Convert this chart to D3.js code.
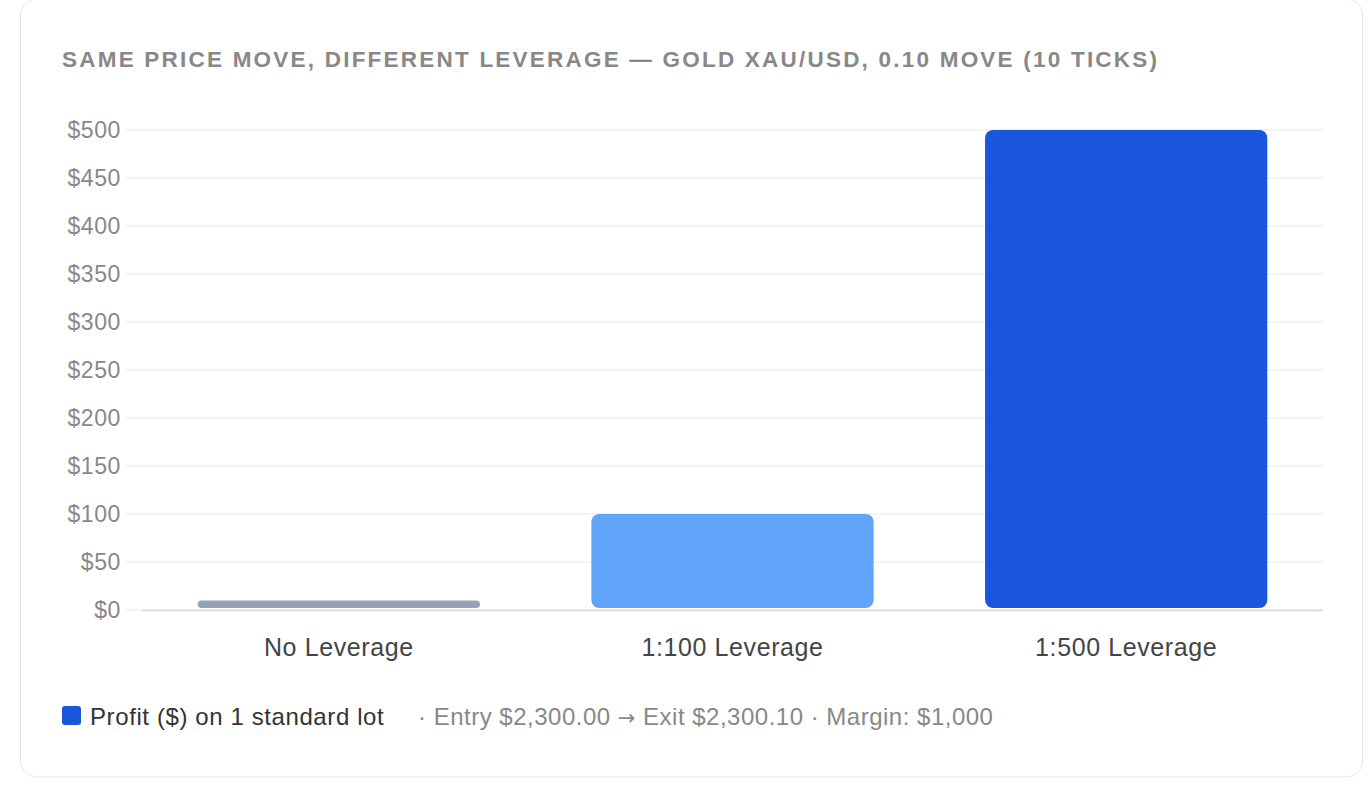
<!DOCTYPE html>
<html>
<head>
<meta charset="utf-8">
<script src="https://cdn.jsdelivr.net/npm/d3@7"></script>
<style>
  html, body { margin: 0; padding: 0; background: #fff; }
  svg { display: block; font-family: "Liberation Sans", Arial, sans-serif; }
</style>
</head>
<body>
<div id="chart-area"></div>
<script>
// data
const categories = ['No Leverage', '1:100 Leverage', '1:500 Leverage'];
const profits = [10, 100, 500];
const barColors = ['#94a3b8', '#60a5fa', '#1a56db'];
const yTicks = [0, 50, 100, 150, 200, 250, 300, 350, 400, 450, 500];
const titleText = 'SAME PRICE MOVE, DIFFERENT LEVERAGE \u2014 GOLD XAU/USD, 0.10 MOVE (10 TICKS)';
const legendLabel = 'Profit ($) on 1 standard lot';
const legendNote = '\u00b7 Entry $2,300.00 \u2192 Exit $2,300.10 \u00b7 Margin: $1,000';

const W = 1368, H = 796;
const margin = {top: 130, right: 45, bottom: 186, left: 142};
const width = W - margin.left - margin.right;
const height = H - margin.top - margin.bottom;

const svg = d3.select('#chart-area')
  .append('svg')
  .attr('width', W)
  .attr('height', H);

// card
svg.append('rect')
  .attr('x', 20.5).attr('y', -1)
  .attr('width', 1342).attr('height', 778)
  .attr('rx', 16)
  .attr('fill', '#fff')
  .attr('stroke', '#e5e7eb');

// title
svg.append('text')
  .attr('x', 62).attr('y', 67)
  .attr('font-size', 22.5)
  .attr('font-weight', 'bold')
  .attr('fill', '#888')
  .attr('textLength', 1095)
  .attr('lengthAdjust', 'spacing')
  .text(titleText);

const g = svg.append('g')
  .attr('transform', `translate(${margin.left}, ${margin.top})`);

// scales
const y_s = d3.scaleLinear().domain([0, 500]).range([height, 0]);
const x_s = d3.scaleBand()
  .domain(categories)
  .range([0, width])
  .paddingInner(0.283)
  .paddingOuter(0.1415);

// grid
g.append('g')
  .selectAll('line')
  .data(yTicks)
  .enter()
  .append('line')
  .attr('x1', -16).attr('x2', width)
  .attr('y1', d => y_s(d)).attr('y2', d => y_s(d))
  .attr('stroke', '#eef1f5')
  .attr('stroke-width', 1.5);

// y axis labels
const yAxis = d3.axisLeft(y_s)
  .tickValues(yTicks)
  .tickSize(0)
  .tickPadding(21)
  .tickFormat(d => '$' + d);
g.append('g')
  .attr('class', 'y axis')
  .call(yAxis)
  .call(s => s.select('.domain').remove())
  .selectAll('text')
  .attr('font-size', 23)
  .attr('letter-spacing', '0.6px')
  .attr('font-family', '"Liberation Sans", Arial, sans-serif')
  .attr('fill', '#888');

// baseline
g.append('line')
  .attr('x1', 0).attr('x2', width)
  .attr('y1', y_s(0) + 0.5).attr('y2', y_s(0) + 0.5)
  .attr('stroke', '#d4d7dc')
  .attr('stroke-width', 1.5);

// x axis labels
const xAxis = d3.axisBottom(x_s).tickSize(0);
g.append('g')
  .attr('class', 'x axis')
  .attr('transform', `translate(0, ${height})`)
  .call(xAxis)
  .call(s => s.select('.domain').remove())
  .selectAll('text')
  .attr('y', 46)
  .attr('dy', null)
  .attr('font-size', 25)
  .attr('letter-spacing', '0.6px')
  .attr('font-family', '"Liberation Sans", Arial, sans-serif')
  .attr('fill', '#444');

// bars
g.selectAll('.bar')
  .data(profits)
  .enter()
  .append('rect')
  .attr('class', 'bar')
  .attr('x', (d, i) => x_s(categories[i]))
  .attr('y', d => y_s(d))
  .attr('width', x_s.bandwidth())
  .attr('height', d => y_s(0) - y_s(d) - 2)
  .attr('rx', d => Math.min(8, (y_s(0) - y_s(d) - 2) / 2))
  .attr('fill', (d, i) => barColors[i]);

// legend
svg.append('rect')
  .attr('x', 62).attr('y', 706)
  .attr('width', 19).attr('height', 19)
  .attr('rx', 3)
  .attr('fill', barColors[2]);
svg.append('text')
  .attr('x', 90).attr('y', 725)
  .attr('font-size', 24)
  .attr('letter-spacing', '0.6px')
  .attr('fill', '#333')
  .text(legendLabel);

// note, with the arrow in a font that has a full-size glyph
const note = svg.append('text')
  .attr('x', 418).attr('y', 725)
  .attr('font-size', 24)
  .attr('letter-spacing', '0.5px')
  .attr('fill', '#888');
legendNote.split(/(\u2192)/).forEach(part => {
  const t = note.append('tspan').text(part);
  if (part === '\u2192') t.attr('font-family', '"DejaVu Sans", sans-serif').attr('font-size', 21);
});
</script>
</body>
</html>
